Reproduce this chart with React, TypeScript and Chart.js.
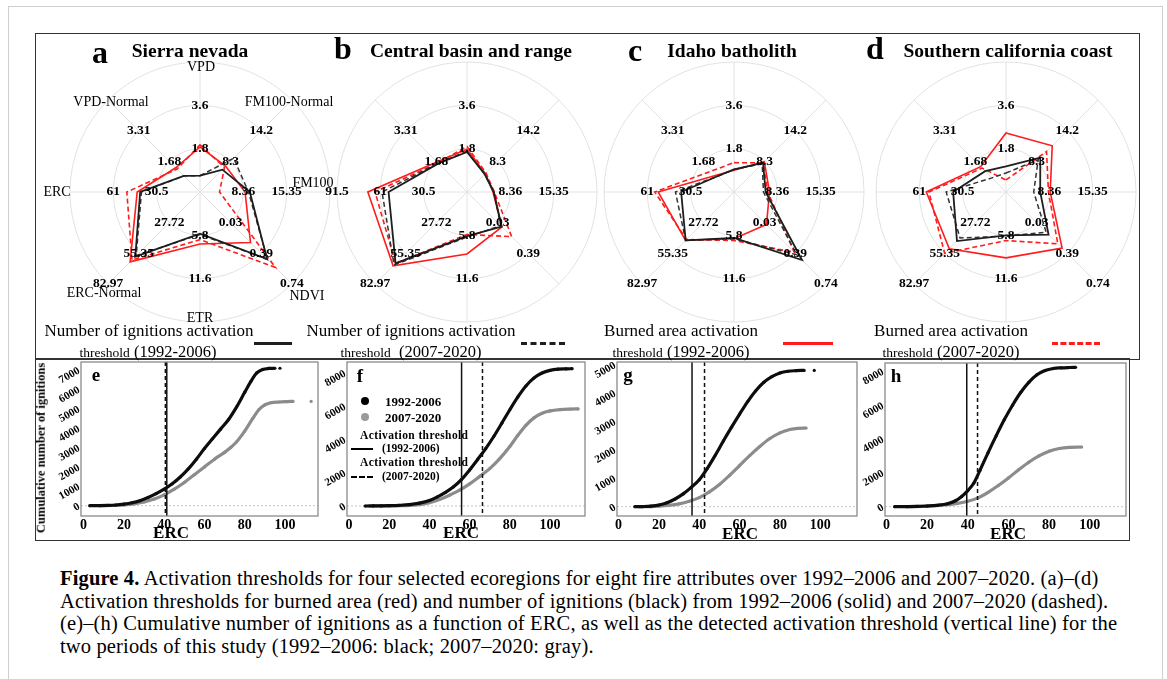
import React, { useEffect, useRef } from "react";
import { Chart, registerables } from "chart.js";
Chart.register(...registerables);

const SERIF = '"Liberation Serif", "Times New Roman", serif';

// ---------- Radar (a-d) ----------
const radarAxes = ["VPD", "FM100-Normal", "FM100", "NDVI", "ETR", "ERC-Normal", "ERC", "VPD-Normal"];
// value at the centre and at the outer ring of every axis
const axisCenterValue = [0, 2.4, 1.37, -0.325, 0, 0.09, 0, 0.05];
const axisOuterValue = [5.4, 20.1, 22.34, 0.74, 17.4, 82.97, 91.5, 4.94];
const ringTickLabels = [
  ["1.8", "3.6", ""],
  ["8.3", "14.2", ""],
  ["8.36", "15.35", ""],
  ["0.03", "0.39", "0.74"],
  ["5.8", "11.6", ""],
  ["27.72", "55.35", "82.97"],
  ["30.5", "61", ""],
  ["1.68", "3.31", ""],
];
const ringTickLabelsB = [
  ["1.8", "3.6", ""],
  ["8.3", "14.2", ""],
  ["8.36", "15.35", ""],
  ["0.03", "0.39", ""],
  ["5.8", "11.6", ""],
  ["27.72", "55.35", "82.97"],
  ["30.5", "61", "91.5"],
  ["1.68", "3.31", ""],
];

// (a) Sierra nevada
const sierraIgn9206 = [0.68, 6.71, 9.41, 0.452, 5.57, 58.4, 42.1, 0.91];
const sierraIgn0720 = [0.68, 8.89, 9.2, 0.456, 5.68, 57.6, 41.2, 0.91];
const sierraBurn9206 = [1.87, 7.36, 8.64, 0.26, 6.96, 63.1, 44.2, 1.34];
const sierraBurn0720 = [1.96, 7.12, 4.52, 0.548, 6.38, 61.4, 51.5, 1.27];
// (b) Central basin and range
const basinIgn9206 = [1.66, 5.82, 5.7, 0.076, 5.92, 64.5, 55.2, 1.57];
const basinIgn0720 = [1.69, 5.82, 5.7, 0.066, 6.03, 65.9, 59.8, 1.58];
const basinBurn9206 = [1.78, 5.94, 5.56, 0.08, 8.29, 66.7, 69.8, 1.65];
const basinBurn0720 = [1.89, 6.06, 5.77, 0.193, 5.68, 64.5, 64.7, 1.6];
// (c) Idaho batholith
const idahoIgn9206 = [0.94, 8.0, 6.47, 0.463, 6.15, 43.7, 37.2, 0.9];
const idahoIgn0720 = [0.94, 7.83, 6.12, 0.403, 6.26, 43.7, 41.2, 0.9];
const idahoBurn9206 = [0.9, 8.24, 7.1, 0.051, 6.26, 43.7, 53.4, 0.95];
const idahoBurn0720 = [1.22, 8.0, 6.82, 0.374, 6.5, 42.9, 55.8, 1.19];
// (d) Southern california coast
const socalIgn9206 = [1.06, 9.0, 6.89, 0.168, 5.8, 44.3, 37.2, 1.16];
const socalIgn0720 = [0.79, 8.6, 5.84, 0.14, 5.92, 41.5, 42.1, 0.8];
const socalBurn9206 = [2.45, 11.3, 8.5, 0.325, 8.82, 51.2, 56.1, 1.4];
const socalBurn0720 = [0.5, 10.2, 8.22, 0.275, 6.5, 55.4, 54.3, 1.32];

// ---------- Cumulative ignitions (e-h) ----------
const ercTicks = [0, 20, 40, 60, 80, 100];
type P = [number, number | null];
const eTicksY = [0, 1000, 2000, 3000, 4000, 5000, 6000, 7000];
const eIgn9206: P[] = [[3, 0], [8, 5], [12, 15], [16, 35], [20, 80], [24, 150], [28, 260], [32, 420], [36, 620], [40, 850], [44, 1130], [48, 1480], [52, 1900], [56, 2400], [60, 2950], [64, 3450], [68, 3950], [72, 4450], [76, 5100], [80, 5850], [83, 6400], [86, 6850], [89, 7030], [92, 7080], [95, 7090], [96, null], [97.5, 7090]];
const eIgn0720: P[] = [[8, 0], [14, 10], [20, 40], [25, 90], [30, 190], [35, 340], [40, 560], [45, 850], [50, 1200], [55, 1600], [60, 2000], [65, 2400], [70, 2750], [73, 3000], [76, 3300], [80, 3850], [84, 4500], [87, 4950], [90, 5200], [93, 5310], [97, 5350], [101, 5370], [104, 5380], [108, null], [113, 5380]];
const eThresholds = [41.3, 40.6];

const fTicksY = [0, 2000, 4000, 6000, 8000];
const fIgn9206: P[] = [[8, 0], [12, 5], [16, 10], [20, 20], [25, 40], [30, 80], [35, 170], [40, 330], [44, 550], [48, 820], [52, 1150], [56, 1600], [60, 2170], [64, 2800], [68, 3450], [72, 4180], [76, 4980], [80, 5790], [84, 6560], [88, 7220], [92, 7700], [96, 8000], [100, 8160], [104, 8230], [108, 8250], [111, 8260]];
const fIgn0720: P[] = [[10, 0], [20, 10], [30, 40], [36, 100], [40, 200], [45, 390], [50, 650], [55, 950], [60, 1330], [65, 1780], [70, 2250], [75, 2850], [80, 3580], [84, 4250], [88, 4850], [92, 5300], [96, 5580], [100, 5720], [105, 5800], [110, 5830], [114, 5840]];
const fThresholds = [56, 66.4];

const gTicksY = [0, 1000, 2000, 3000, 4000, 5000];
const gIgn9206: P[] = [[8, 0], [12, 5], [16, 20], [20, 60], [24, 140], [28, 270], [32, 450], [36, 680], [40, 950], [44, 1350], [48, 1820], [52, 2320], [56, 2800], [60, 3260], [64, 3700], [68, 4080], [72, 4380], [76, 4580], [80, 4710], [84, 4770], [88, 4790], [92, 4800], [94, null], [97, 4800]];
const gIgn0720: P[] = [[10, 0], [16, 5], [20, 20], [25, 50], [30, 100], [35, 190], [40, 320], [45, 520], [50, 780], [55, 1100], [60, 1450], [65, 1800], [70, 2120], [75, 2400], [80, 2600], [85, 2720], [89, 2760], [93, 2770]];
const gThresholds = [36.4, 42.6];

const hTicksY = [0, 2000, 4000, 6000, 8000];
const hIgn9206: P[] = [[4, 0], [10, 5], [15, 15], [20, 40], [25, 80], [30, 170], [34, 350], [37, 600], [40, 950], [43, 1400], [46, 2150], [50, 3200], [54, 4200], [58, 5150], [62, 6000], [66, 6750], [70, 7350], [74, 7800], [78, 8050], [82, 8170], [86, 8210], [90, 8230], [93, 8240]];
const hIgn0720: P[] = [[10, 0], [20, 30], [30, 120], [35, 200], [40, 320], [45, 520], [50, 850], [55, 1250], [60, 1700], [65, 2180], [70, 2630], [75, 3000], [80, 3280], [85, 3440], [90, 3510], [96, 3530]];
const hThresholds = [39.5, 44.8];

const RED = "#ff1c1c";
const BLACK = "#1e1e1e";
const GRAY = "#8c8c8c";

function Txt({ x, y, size, bold, align = "center", children, style }: any) {
  const tx = align === "center" ? "-50%" : align === "right" ? "-100%" : "0";
  return (
    <div
      style={{
        position: "absolute",
        left: x,
        top: y,
        transform: `translate(${tx}, -50%)`,
        fontFamily: SERIF,
        fontSize: size,
        fontWeight: bold ? "bold" : "normal",
        lineHeight: 1,
        whiteSpace: "nowrap",
        color: "#000",
        ...style,
      }}
    >
      {children}
    </div>
  );
}

function RadarPanel({ cx, cy, ign9206, ign0720, burn9206, burn0720, tickLabels }: any) {
  const ref = useRef<HTMLCanvasElement>(null);
  useEffect(() => {
    const toRing = (vals: number[]) =>
      vals.map((v, i) => (3 * (v - axisCenterValue[i])) / (axisOuterValue[i] - axisCenterValue[i]));
    const labelPlugin = {
      id: "ringLabels",
      afterDatasetsDraw(chart: any) {
        const s = chart.scales.r;
        const ctx = chart.ctx;
        ctx.save();
        ctx.font = `bold 13.5px ${SERIF}`;
        ctx.fillStyle = "#000";
        ctx.textAlign = "center";
        ctx.textBaseline = "middle";
        tickLabels.forEach((arr: string[], i: number) =>
          arr.forEach((t, k) => {
            if (!t) return;
            const p = s.getPointPositionForValue(i, k + 1);
            ctx.fillText(t, p.x, p.y);
          })
        );
        ctx.restore();
      },
    };
    const ds = (data: number[], color: string, width: number, dash: number[]) => ({
      data: toRing(data),
      borderColor: color,
      backgroundColor: "transparent",
      borderWidth: width,
      borderDash: dash,
      fill: false,
      pointRadius: 0,
      tension: 0,
    });
    const chart = new Chart(ref.current!, {
      type: "radar",
      data: {
        labels: radarAxes,
        datasets: [
          ds(ign9206, BLACK, 1.8, []),
          ds(ign0720, "#333", 1.5, [5, 3]),
          ds(burn9206, RED, 1.6, []),
          ds(burn0720, RED, 1.6, [5, 3]),
        ],
      },
      options: {
        responsive: false,
        animation: false,
        events: [],
        layout: { padding: 20 },
        plugins: { legend: { display: false }, tooltip: { enabled: false } },
        scales: {
          r: {
            min: 0,
            max: 3,
            ticks: { display: false, stepSize: 1 },
            grid: { circular: true, color: "#e2e2e2", lineWidth: 1 },
            angleLines: { color: "#e2e2e2", lineWidth: 1 },
            pointLabels: { display: false },
          },
        },
      } as any,
      plugins: [labelPlugin],
    });
    return () => chart.destroy();
  }, []);
  return (
    <canvas
      ref={ref}
      width={300}
      height={300}
      style={{ position: "absolute", left: cx - 150, top: cy - 150 }}
    />
  );
}

function CumPanel({ box, xMin, xMax, yMin, yMax, yTicks, black, gray, thresholds }: any) {
  const ref = useRef<HTMLCanvasElement>(null);
  const padL = 48, padT = 16, padR = 6, padB = 24;
  useEffect(() => {
    const framePlugin = {
      id: "frame",
      beforeDatasetsDraw(chart: any) {
        const { ctx, chartArea: a, scales } = chart;
        const y0 = scales.y.getPixelForValue(0);
        ctx.save();
        ctx.strokeStyle = "#c4c4c4";
        ctx.lineWidth = 1;
        ctx.setLineDash([2, 2]);
        ctx.beginPath();
        ctx.moveTo(a.left, y0);
        ctx.lineTo(a.right, y0);
        ctx.stroke();
        ctx.restore();
      },
      afterDatasetsDraw(chart: any) {
        const { ctx, chartArea: a, scales } = chart;
        ctx.save();
        ctx.strokeStyle = "#111";
        ctx.lineWidth = 1.5;
        thresholds.forEach((t: number, i: number) => {
          const x = scales.x.getPixelForValue(t);
          ctx.setLineDash(i === 0 ? [] : [4, 3]);
          ctx.beginPath();
          ctx.moveTo(x, a.top);
          ctx.lineTo(x, a.bottom);
          ctx.stroke();
        });
        ctx.setLineDash([]);
        ctx.strokeStyle = "#8a8a8a";
        ctx.lineWidth = 1.3;
        ctx.strokeRect(a.left, a.top, a.right - a.left, a.bottom - a.top);
        ctx.restore();
      },
    };
    const ds = (pts: P[], color: string) => ({
      data: pts.map(([x, y]) => ({ x, y })),
      showLine: true,
      borderColor: color,
      backgroundColor: color,
      borderWidth: 3.2,
      pointRadius: 1.6,
      pointBorderWidth: 0,
      cubicInterpolationMode: "monotone",
      spanGaps: false,
    });
    const chart = new Chart(ref.current!, {
      type: "scatter",
      data: { datasets: [ds(black, "#0d0d0d"), ds(gray, GRAY)] },
      options: {
        responsive: false,
        animation: false,
        events: [],
        layout: { padding: { left: 0, top: padT, right: padR, bottom: 0 } },
        plugins: { legend: { display: false }, tooltip: { enabled: false } },
        scales: {
          x: {
            type: "linear",
            min: xMin,
            max: xMax,
            afterBuildTicks: (s: any) => {
              s.ticks = ercTicks.map((v) => ({ value: v }));
            },
            afterFit: (s: any) => {
              s.height = padB;
            },
            grid: { display: false, drawTicks: false },
            border: { display: false },
            ticks: {
              font: { family: SERIF, weight: "bold", size: 14 },
              color: "#000",
              padding: 1,
              minRotation: 0,
              maxRotation: 0,
              autoSkip: false,
              callback: (v: any) => String(v),
            },
          },
          y: {
            type: "linear",
            min: yMin,
            max: yMax,
            afterBuildTicks: (s: any) => {
              s.ticks = yTicks.map((v: number) => ({ value: v }));
            },
            afterFit: (s: any) => {
              s.width = padL;
            },
            grid: { display: false, drawTicks: false },
            border: { display: false },
            ticks: {
              font: { family: SERIF, weight: "bold", size: 11 },
              color: "#000",
              padding: 2,
              minRotation: 30,
              maxRotation: 30,
              autoSkip: false,
              callback: (v: any) => String(v),
            },
          },
        },
      } as any,
      plugins: [framePlugin],
    });
    return () => chart.destroy();
  }, []);
  return (
    <canvas
      ref={ref}
      width={box.w + padL + padR}
      height={box.h + padT + padB}
      style={{ position: "absolute", left: box.l - padL, top: box.t - padT }}
    />
  );
}

const captionLines = [
  "Activation thresholds for four selected ecoregions for eight fire attributes over 1992–2006 and 2007–2020. (a)–(d)",
  "Activation thresholds for burned area (red) and number of ignitions (black) from 1992–2006 (solid) and 2007–2020 (dashed).",
  "(e)–(h) Cumulative number of ignitions as a function of ERC, as well as the detected activation threshold (vertical line) for the",
  "two periods of this study (1992–2006: black; 2007–2020: gray).",
];

export default function App() {
  const legendLine = (x: number, w: number, color: string, dashed: boolean) => (
    <div
      style={{
        position: "absolute",
        left: x,
        top: 342,
        width: w,
        height: 0,
        borderTop: `3px ${dashed ? "dashed" : "solid"} ${color}`,
      }}
    />
  );
  const cap = { letterSpacing: 0.15 };
  return (
    <div
      style={{
        position: "absolute",
        left: 0,
        top: 0,
        width: 1167,
        height: 679,
        overflow: "hidden",
        background: "#fff",
      }}
    >
      <div style={{ position: "absolute", left: 8, top: 6, width: 1155, height: 720, border: "1px solid #cfcfcf", boxSizing: "border-box" }} />
      <div style={{ position: "absolute", left: 35, top: 33, width: 1105, height: 327, border: "1.5px solid #333", boxSizing: "border-box" }} />
      <div style={{ position: "absolute", left: 35, top: 358, width: 1095, height: 183, border: "1.5px solid #333", borderTopWidth: 2, boxSizing: "border-box" }} />

      <RadarPanel cx={200} cy={192} ign9206={sierraIgn9206} ign0720={sierraIgn0720} burn9206={sierraBurn9206} burn0720={sierraBurn0720} tickLabels={ringTickLabels} />
      <RadarPanel cx={467} cy={192} ign9206={basinIgn9206} ign0720={basinIgn0720} burn9206={basinBurn9206} burn0720={basinBurn0720} tickLabels={ringTickLabelsB} />
      <RadarPanel cx={734} cy={192} ign9206={idahoIgn9206} ign0720={idahoIgn0720} burn9206={idahoBurn9206} burn0720={idahoBurn0720} tickLabels={ringTickLabels} />
      <RadarPanel cx={1006} cy={192} ign9206={socalIgn9206} ign0720={socalIgn0720} burn9206={socalBurn9206} burn0720={socalBurn0720} tickLabels={ringTickLabels} />

      {/* panel titles */}
      <Txt x={100} y={52} size={32} bold>a</Txt>
      <Txt x={190} y={51} size={19.5} bold>Sierra nevada</Txt>
      <Txt x={343} y={48} size={32} bold>b</Txt>
      <Txt x={471} y={51} size={19.5} bold>Central basin and range</Txt>
      <Txt x={635} y={50} size={32} bold>c</Txt>
      <Txt x={732} y={51} size={19.5} bold>Idaho batholith</Txt>
      <Txt x={875} y={48} size={32} bold>d</Txt>
      <Txt x={1008} y={51} size={19.5} bold>Southern california coast</Txt>

      {/* radar axis names (panel a) */}
      <Txt x={201} y={67} size={14}>VPD</Txt>
      <Txt x={289} y={102} size={14}>FM100-Normal</Txt>
      <Txt x={313} y={183} size={14}>FM100</Txt>
      <Txt x={307} y={296} size={14}>NDVI</Txt>
      <Txt x={200} y={318} size={14}>ETR</Txt>
      <Txt x={104} y={293} size={14}>ERC-Normal</Txt>
      <Txt x={57} y={192} size={14}>ERC</Txt>
      <Txt x={111} y={102} size={14}>VPD-Normal</Txt>

      {/* legend row */}
      <Txt x={149} y={330} size={17}>Number of ignitions activation</Txt>
      <Txt x={148} y={352} size={16.5}><span style={{ fontSize: 13.5 }}>threshold</span> (1992-2006)</Txt>
      {legendLine(254, 38, BLACK, false)}
      <Txt x={411} y={330} size={17}>Number of ignitions activation</Txt>
      <Txt x={411} y={352} size={16.5}><span style={{ fontSize: 13.5 }}>threshold</span>{"\u00a0 "}(2007-2020)</Txt>
      {legendLine(521, 44, BLACK, true)}
      <Txt x={681} y={330} size={17}>Burned area activation</Txt>
      <Txt x={681} y={352} size={16.5}><span style={{ fontSize: 13.5 }}>threshold</span> (1992-2006)</Txt>
      {legendLine(783, 50, RED, false)}
      <Txt x={951} y={330} size={17}>Burned area activation</Txt>
      <Txt x={951} y={352} size={16.5}><span style={{ fontSize: 13.5 }}>threshold</span> (2007-2020)</Txt>
      {legendLine(1052, 48, RED, true)}

      {/* cumulative panels */}
      <CumPanel box={{ l: 81, t: 362, w: 237, h: 154 }} xMin={-1.3} xMax={116.4} yMin={-531} yMax={7413} yTicks={eTicksY} black={eIgn9206} gray={eIgn0720} thresholds={eThresholds} />
      <CumPanel box={{ l: 347, t: 362, w: 238, h: 154 }} xMin={-1.0} xMax={117.4} yMin={-603} yMax={8663} yTicks={fTicksY} black={fIgn9206} gray={fIgn0720} thresholds={fThresholds} />
      <CumPanel box={{ l: 617, t: 362, w: 240, h: 154 }} xMin={-0.8} xMax={118.2} yMin={-328} yMax={5095} yTicks={gTicksY} black={gIgn9206} gray={gIgn0720} thresholds={gThresholds} />
      <CumPanel box={{ l: 885, t: 363, w: 241, h: 153 }} xMin={-0.7} xMax={117.8} yMin={-551} yMax={8497} yTicks={hTicksY} black={hIgn9206} gray={hIgn0720} thresholds={hThresholds} />

      <Txt x={96} y={374} size={19} bold>e</Txt>
      <Txt x={360} y={375} size={19} bold>f</Txt>
      <Txt x={628} y={374} size={19} bold>g</Txt>
      <Txt x={896} y={375} size={19} bold>h</Txt>

      <Txt x={171} y={532} size={17} bold>ERC</Txt>
      <Txt x={461} y={532} size={17} bold>ERC</Txt>
      <Txt x={740} y={533} size={17} bold>ERC</Txt>
      <Txt x={1008} y={533} size={17} bold>ERC</Txt>

      <Txt x={41} y={448} size={12.5} bold style={{ transform: "translate(-50%, -50%) rotate(-90deg)" }}>Cumulative number of ignitions</Txt>

      {/* legend of panel f */}
      <div style={{ position: "absolute", left: 361, top: 397, width: 8, height: 8, borderRadius: 4, background: "#000" }} />
      <Txt x={385} y={401} size={13} bold align="left">1992-2006</Txt>
      <div style={{ position: "absolute", left: 361, top: 413, width: 8, height: 8, borderRadius: 4, background: "#9a9a9a" }} />
      <Txt x={385} y={417} size={13} bold align="left">2007-2020</Txt>
      <Txt x={360} y={436} size={11.5} bold align="left" style={{ letterSpacing: 0.4 }}>Activation threshold</Txt>
      <div style={{ position: "absolute", left: 351, top: 448, width: 22, height: 0, borderTop: "2px solid #000" }} />
      <Txt x={382} y={449} size={11.5} bold align="left">(1992-2006)</Txt>
      <Txt x={360} y={463} size={11.5} bold align="left" style={{ letterSpacing: 0.4 }}>Activation threshold</Txt>
      <div style={{ position: "absolute", left: 351, top: 476, width: 22, height: 0, borderTop: "2px dashed #000" }} />
      <Txt x={382} y={477} size={11.5} bold align="left">(2007-2020)</Txt>

      {/* caption */}
      <Txt x={60} y={578} size={20.5} align="left" style={cap}><b>Figure 4.</b> {captionLines[0]}</Txt>
      <Txt x={60} y={601} size={20.5} align="left" style={cap}>{captionLines[1]}</Txt>
      <Txt x={60} y={623} size={20.5} align="left" style={cap}>{captionLines[2]}</Txt>
      <Txt x={60} y={646} size={20.5} align="left" style={cap}>{captionLines[3]}</Txt>
    </div>
  );
}
